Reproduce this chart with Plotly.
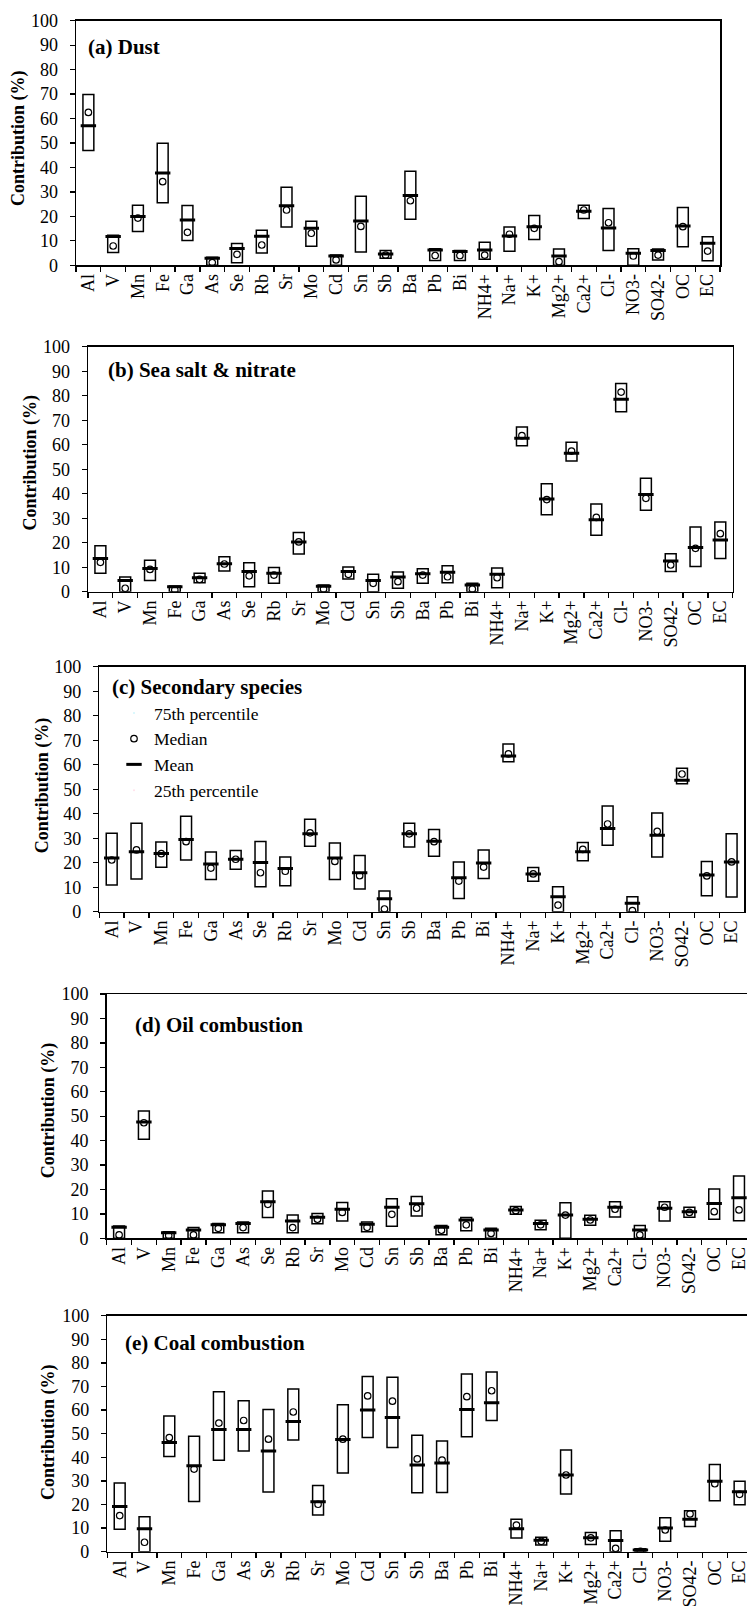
import plotly.graph_objects as go

# ---------------- data ----------------
categories = ["Al", "V", "Mn", "Fe", "Ga", "As", "Se", "Rb", "Sr", "Mo", "Cd", "Sn", "Sb",
              "Ba", "Pb", "Bi", "NH4+", "Na+", "K+", "Mg2+", "Ca2+", "Cl-", "NO3-", "SO42-",
              "OC", "EC"]

panel_titles = ["(a) Dust", "(b) Sea salt & nitrate", "(c) Secondary species",
                "(d) Oil combustion", "(e) Coal combustion"]

dust_p75 = [69.8, 12.3, 24.5, 49.9, 24.4, 3.3, 8.9, 14.3, 31.9, 18.0, 4.2, 28.2, 6.0,
            38.4, 6.8, 6.0, 9.4, 15.7, 20.4, 6.7, 24.5, 23.2, 6.8, 6.7, 23.6, 11.7]
dust_p25 = [46.9, 5.2, 13.8, 25.6, 10.1, 0.0, 1.0, 5.0, 15.7, 7.8, 0.0, 5.4, 2.9,
            18.8, 2.0, 2.0, 2.5, 5.7, 10.5, 0.0, 19.1, 6.0, 0.0, 2.2, 7.6, 1.9]
dust_mean = [57.1, 11.8, 20.0, 37.7, 18.5, 2.9, 6.9, 11.9, 24.3, 15.1, 3.8, 18.1, 4.6,
             28.5, 6.3, 5.6, 6.3, 12.0, 15.8, 3.8, 22.1, 15.3, 4.9, 6.1, 16.1, 9.0]
dust_median = [62.5, 7.9, 19.3, 34.2, 13.5, 1.1, 4.5, 8.3, 22.6, 13.1, 2.2, 15.9, 4.2,
               26.4, 4.0, 4.0, 4.2, 12.7, 15.1, 1.5, 22.6, 17.4, 3.8, 4.2, 15.8, 5.8]

seasalt_p75 = [18.8, 6.0, 12.8, 2.3, 7.5, 14.3, 11.8, 9.9, 24.2, 2.7, 10.1, 7.1, 8.0,
               9.4, 10.6, 3.4, 9.7, 67.2, 44.1, 61.0, 35.8, 85.0, 46.3, 15.5, 26.4, 28.4]
seasalt_p25 = [7.5, 0.0, 4.6, 0.0, 3.7, 8.4, 2.0, 3.4, 15.4, 0.0, 5.2, 0.0, 1.4,
               3.4, 3.7, 0.0, 1.6, 59.6, 31.4, 53.3, 23.0, 73.5, 33.2, 8.2, 10.3, 13.6]
seasalt_mean = [13.6, 4.6, 9.5, 2.0, 5.7, 11.4, 8.2, 7.5, 20.3, 2.2, 8.2, 4.6, 6.0,
                7.3, 7.9, 2.7, 7.1, 62.6, 37.8, 56.5, 29.4, 78.6, 39.7, 12.5, 18.0, 21.1]
seasalt_median = [12.0, 1.4, 9.1, 0.7, 5.0, 11.3, 6.5, 6.8, 20.3, 1.1, 7.1, 3.4, 4.1,
                  6.8, 6.1, 1.1, 5.7, 63.7, 37.6, 57.4, 30.3, 81.5, 38.1, 10.9, 17.7, 23.7]

secondary_p75 = [32.0, 36.1, 28.4, 39.0, 24.4, 25.0, 28.7, 22.3, 37.7, 28.0, 22.9, 8.4, 36.1,
                 33.6, 20.3, 25.2, 68.4, 18.0, 10.2, 28.2, 43.1, 6.1, 40.3, 58.6, 20.5, 31.8]
secondary_p25 = [10.9, 13.3, 18.1, 21.1, 13.1, 17.3, 10.2, 10.6, 26.7, 13.1, 9.3, 0.0, 26.4,
                 22.6, 5.4, 13.5, 61.2, 12.4, 0.0, 20.8, 27.1, 0.0, 22.3, 52.2, 6.5, 6.0]
secondary_mean = [21.9, 24.5, 23.8, 29.5, 19.5, 21.4, 20.1, 17.6, 31.8, 21.9, 15.9, 5.3, 31.8,
                  28.8, 13.9, 19.9, 63.5, 15.4, 6.1, 24.5, 34.0, 3.4, 31.2, 53.7, 15.0, 20.3]
secondary_median = [21.1, 25.2, 23.7, 28.6, 17.8, 21.4, 15.9, 16.5, 32.2, 20.5, 14.7, 1.1, 31.8,
                    28.6, 12.5, 18.2, 64.4, 15.4, 2.7, 25.4, 35.8, 0.4, 32.8, 56.2, 14.6, 20.3]

oil_p75 = [5.0, 52.1, 2.7, 4.4, 6.1, 6.7, 19.4, 9.5, 10.2, 14.7, 6.7, 16.2, 17.1,
           5.2, 8.5, 4.1, 13.0, 7.4, 14.6, 9.4, 15.0, 5.2, 15.0, 12.7, 20.2, 25.5]
oil_p25 = [0.0, 40.5, 0.0, 0.0, 2.3, 2.3, 8.5, 2.3, 6.0, 7.1, 2.7, 4.9, 9.1,
           1.5, 3.1, 0.0, 9.8, 3.5, 0.0, 5.3, 8.7, 0.0, 7.1, 8.6, 7.8, 7.2]
oil_mean = [4.5, 47.6, 2.3, 3.4, 5.5, 6.1, 15.0, 7.1, 8.6, 11.9, 5.7, 12.7, 14.1,
            4.5, 7.5, 3.4, 11.6, 6.1, 9.5, 7.8, 12.7, 3.4, 12.3, 10.9, 14.2, 16.6]
oil_median = [1.4, 47.3, 1.1, 1.4, 4.1, 4.4, 13.9, 4.4, 7.8, 10.6, 4.5, 9.8, 12.3,
              3.3, 5.5, 2.0, 11.3, 5.5, 9.5, 7.5, 11.9, 1.4, 12.7, 10.6, 10.9, 11.6]

coal_p75 = [29.1, 14.8, 57.5, 48.9, 67.8, 64.0, 60.3, 68.9, 28.0, 62.3, 74.2, 73.9, 49.3,
            46.9, 75.3, 76.1, 13.8, 6.1, 43.1, 8.1, 8.9, 1.3, 14.4, 17.4, 36.9, 29.8]
coal_p25 = [9.5, 0.0, 40.3, 21.3, 38.7, 42.7, 25.3, 47.3, 15.5, 33.3, 48.4, 44.2, 25.0,
            25.1, 48.7, 55.6, 5.8, 2.8, 24.4, 3.1, 0.0, 0.0, 4.4, 10.7, 21.6, 19.9]
coal_mean = [19.1, 9.7, 46.3, 36.4, 51.8, 51.8, 42.7, 55.2, 21.2, 47.5, 60.0, 56.9, 36.7,
             37.6, 60.3, 63.1, 9.7, 4.9, 32.5, 5.9, 4.7, 0.7, 10.0, 13.8, 29.9, 25.4]
coal_median = [15.3, 4.0, 48.3, 35.0, 54.5, 55.6, 47.7, 59.2, 20.1, 47.7, 66.0, 63.8, 39.3,
               38.8, 65.7, 68.2, 11.3, 4.4, 32.5, 5.9, 1.4, 0.2, 9.2, 16.0, 28.8, 24.3]

y_ticks = [0, 10, 20, 30, 40, 50, 60, 70, 80, 90, 100]
legend_labels = ["75th percentile", "Median", "Mean", "25th percentile"]

# ---------------- figure ----------------
W, H = 747, 1606
FONT = "Liberation Serif"

series = [
    (dust_p25, dust_p75, dust_mean, dust_median),
    (seasalt_p25, seasalt_p75, seasalt_mean, seasalt_median),
    (secondary_p25, secondary_p75, secondary_mean, secondary_median),
    (oil_p25, oil_p75, oil_mean, oil_median),
    (coal_p25, coal_p75, coal_mean, coal_median),
]

# plot-area geometry in pixels: x left, x right, y top (100), y bottom (0)
geom = [
    (76.0, 720.0, 20.7, 265.3),
    (88.0, 732.7, 346.7, 591.7),
    (99.3, 744.0, 666.7, 911.7),
    (106.7, 751.4, 994.0, 1238.3),
    (107.3, 752.0, 1315.7, 1551.7),
]
title_pos = [(86, 47), (106, 370), (110, 686.7), (132.7, 1025), (123.3, 1342.7)]
ytitle_pos = [(18, 138), (30, 462.5), (43.3, 785), (48.3, 1110), (48.3, 1431.7)]

fig = go.Figure()
annotations = []
n = len(categories)

for i, (p25, p75, mean, med) in enumerate(series):
    k = i + 1
    xa = "x" if k == 1 else f"x{k}"
    ya = "y" if k == 1 else f"y{k}"
    heights = [a - b for a, b in zip(p75, p25)]
    fig.add_trace(go.Bar(
        x=categories, y=heights, base=p25, width=0.44,
        marker=dict(color="white", line=dict(color="black", width=1.5)),
        xaxis=xa, yaxis=ya, showlegend=False, hoverinfo="skip"))
    fig.add_trace(go.Scatter(
        x=categories, y=mean, mode="markers", name=legend_labels[2],
        marker=dict(symbol="line-ew", size=11, color="black",
                    line=dict(color="black", width=3)),
        xaxis=xa, yaxis=ya, showlegend=(k == 3), legendrank=3))
    fig.add_trace(go.Scatter(
        x=categories, y=med, mode="markers", name=legend_labels[1],
        marker=dict(symbol="circle-open", size=6.5, color="black",
                    line=dict(color="black", width=1.2)),
        xaxis=xa, yaxis=ya, showlegend=(k == 3), legendrank=2))

    x0, x1, yt, yb = geom[i]
    xr = min(x1, W)
    xdom = [x0 / W, xr / W]
    xrange_hi = -0.5 + n * (xr - x0) / (x1 - x0)
    ydom = [1 - yb / H, 1 - yt / H]
    full_box = x1 <= W

    fig.layout[f"xaxis{'' if k == 1 else k}"] = dict(
        domain=xdom, anchor=ya, type="category",
        categoryorder="array", categoryarray=categories,
        range=[-0.5, xrange_hi], tickson="boundaries",
        ticks="outside", ticklen=5, tickwidth=1.3, tickcolor="black",
        showline=True, linecolor="black", linewidth=1.5, mirror=True,
        tickangle=-90, tickfont=dict(family=FONT, size=18, color="black"),
        showgrid=False, zeroline=False, fixedrange=True, automargin=False)
    fig.layout[f"yaxis{'' if k == 1 else k}"] = dict(
        domain=ydom, anchor=xa, range=[0, 100], tickvals=y_ticks,
        ticks="outside", ticklen=5, tickwidth=1.3, tickcolor="black",
        showline=True, linecolor="black", linewidth=1.5, mirror=full_box,
        tickfont=dict(family=FONT, size=18, color="black"),
        ticklabelstandoff=8,
        showgrid=False, zeroline=False, fixedrange=True, automargin=False)

    tx, ty = title_pos[i]
    annotations.append(dict(
        text=f"<b>{panel_titles[i]}</b>", x=tx / W, y=1 - ty / H,
        xref="paper", yref="paper", xanchor="left", yanchor="middle",
        showarrow=False, font=dict(family=FONT, size=21, color="black")))
    yx, yy = ytitle_pos[i]
    annotations.append(dict(
        text="<b>Contribution (%)</b>", x=yx / W, y=1 - yy / H,
        xref="paper", yref="paper", xanchor="center", yanchor="middle",
        textangle=-90, showarrow=False,
        font=dict(family=FONT, size=18, color="black")))

# legend-only entries for the percentile labels
fig.add_trace(go.Scatter(x=[None], y=[None], mode="markers", name=legend_labels[0],
                         marker=dict(size=1, opacity=0), xaxis="x3", yaxis="y3",
                         showlegend=True, legendrank=1, hoverinfo="skip"))
fig.add_trace(go.Scatter(x=[None], y=[None], mode="markers", name=legend_labels[3],
                         marker=dict(size=1, opacity=0), xaxis="x3", yaxis="y3",
                         showlegend=True, legendrank=4, hoverinfo="skip"))

fig.update_layout(
    width=W, height=H, margin=dict(l=0, r=0, t=0, b=0, pad=0, autoexpand=False),
    paper_bgcolor="white", plot_bgcolor="white",
    barmode="overlay",
    annotations=annotations,
    legend=dict(x=114 / W, y=1 - 695 / H, xanchor="left", yanchor="top",
                bgcolor="rgba(0,0,0,0)", borderwidth=0, traceorder="normal",
                font=dict(family=FONT, size=17.5, color="black")),
    showlegend=True,
)

fig.write_html("out.html",
               config={"displayModeBar": False, "staticPlot": True},
               post_script="document.body.style.margin='0px';document.body.style.overflow='hidden';")
